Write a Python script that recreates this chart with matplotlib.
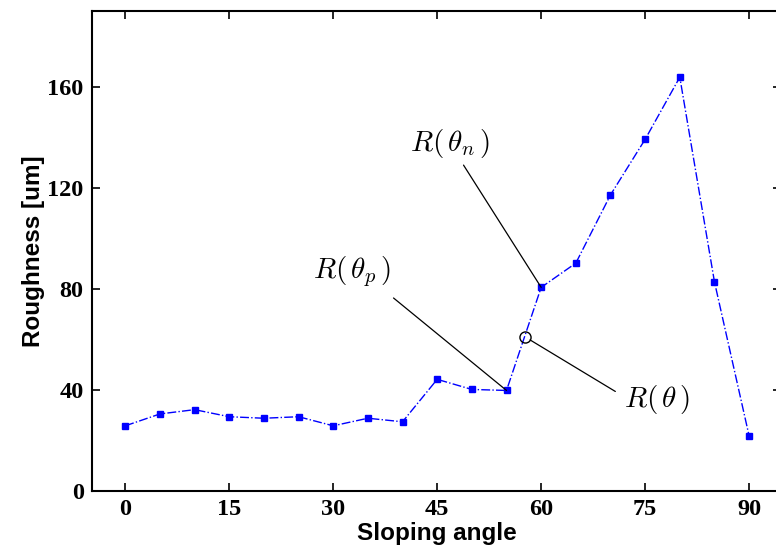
import matplotlib
matplotlib.use('Agg')
import matplotlib.pyplot as plt

# roughness vs sloping angle
angles = [0, 5, 10, 15, 20, 25, 30, 35, 40, 45, 50, 55, 60, 65, 70, 75, 80, 85, 90]
roughness = [25.8, 30.5, 32.2, 29.4, 28.8, 29.4, 25.8, 28.8, 27.4, 44.2, 40.2, 39.8,
             80.6, 90.2, 117.2, 139.2, 163.8, 82.8, 21.8]
xticks = [0, 15, 30, 45, 60, 75, 90]
yticks = [0, 40, 80, 120, 160]

# circled point R(theta) between 55 and 60
circ_x, circ_y = 57.6, 61.0

plt.rcParams['mathtext.fontset'] = 'cm'

fig = plt.figure(figsize=(7.76, 5.54), dpi=100)
ax = fig.add_axes([92 / 776, 63 / 554, 689 / 776, 480 / 554])

ax.plot(angles, roughness, color='blue', linestyle='-.', linewidth=1.0,
        marker='s', markersize=4.5, markerfacecolor='blue', markeredgecolor='blue')
ax.plot([circ_x], [circ_y], marker='o', markersize=8, markerfacecolor='none',
        markeredgecolor='black', markeredgewidth=1.0, linestyle='none')

ax.set_xlim(-4.8, 94.6)
ax.set_ylim(0, 190)
ax.set_xticks(xticks)
ax.set_yticks(yticks)

tick_font = {'family': 'Liberation Serif', 'weight': 'bold', 'size': 17.5}
ax.set_xticklabels([str(t) for t in xticks], fontdict=tick_font)
ax.set_yticklabels([str(t) for t in yticks], fontdict=tick_font)
ax.tick_params(direction='in', length=6, width=1.2, top=True, right=True, pad=6)
for s in ax.spines.values():
    s.set_linewidth(1.5)

ax.set_xlabel('Sloping angle', family='Liberation Sans', weight='bold', fontsize=17.5, labelpad=1)
ax.set_ylabel('Roughness [um]', family='Liberation Sans', weight='bold', fontsize=17.5, labelpad=2)

line_kw = dict(arrowstyle='-', color='black', lw=0.9, shrinkA=0, shrinkB=0)
ax.annotate('', xy=(60, 80.6), xytext=(48.8, 129), arrowprops=line_kw)
ax.annotate('', xy=(55, 39.8), xytext=(38.7, 76.4), arrowprops=line_kw)
ax.annotate('', xy=(58.4, 59.8), xytext=(70.7, 39.4), arrowprops=line_kw)

ax.text(46.9, 137.7, r'$R(\,\theta_n\,)$', fontsize=21, ha='center', va='center')
ax.text(32.7, 86.7, r'$R(\,\theta_p\,)$', fontsize=21, ha='center', va='center')
ax.text(76.7, 36.4, r'$R(\,\theta\,)$', fontsize=21, ha='center', va='center')

plt.savefig('out.png', dpi=100)
